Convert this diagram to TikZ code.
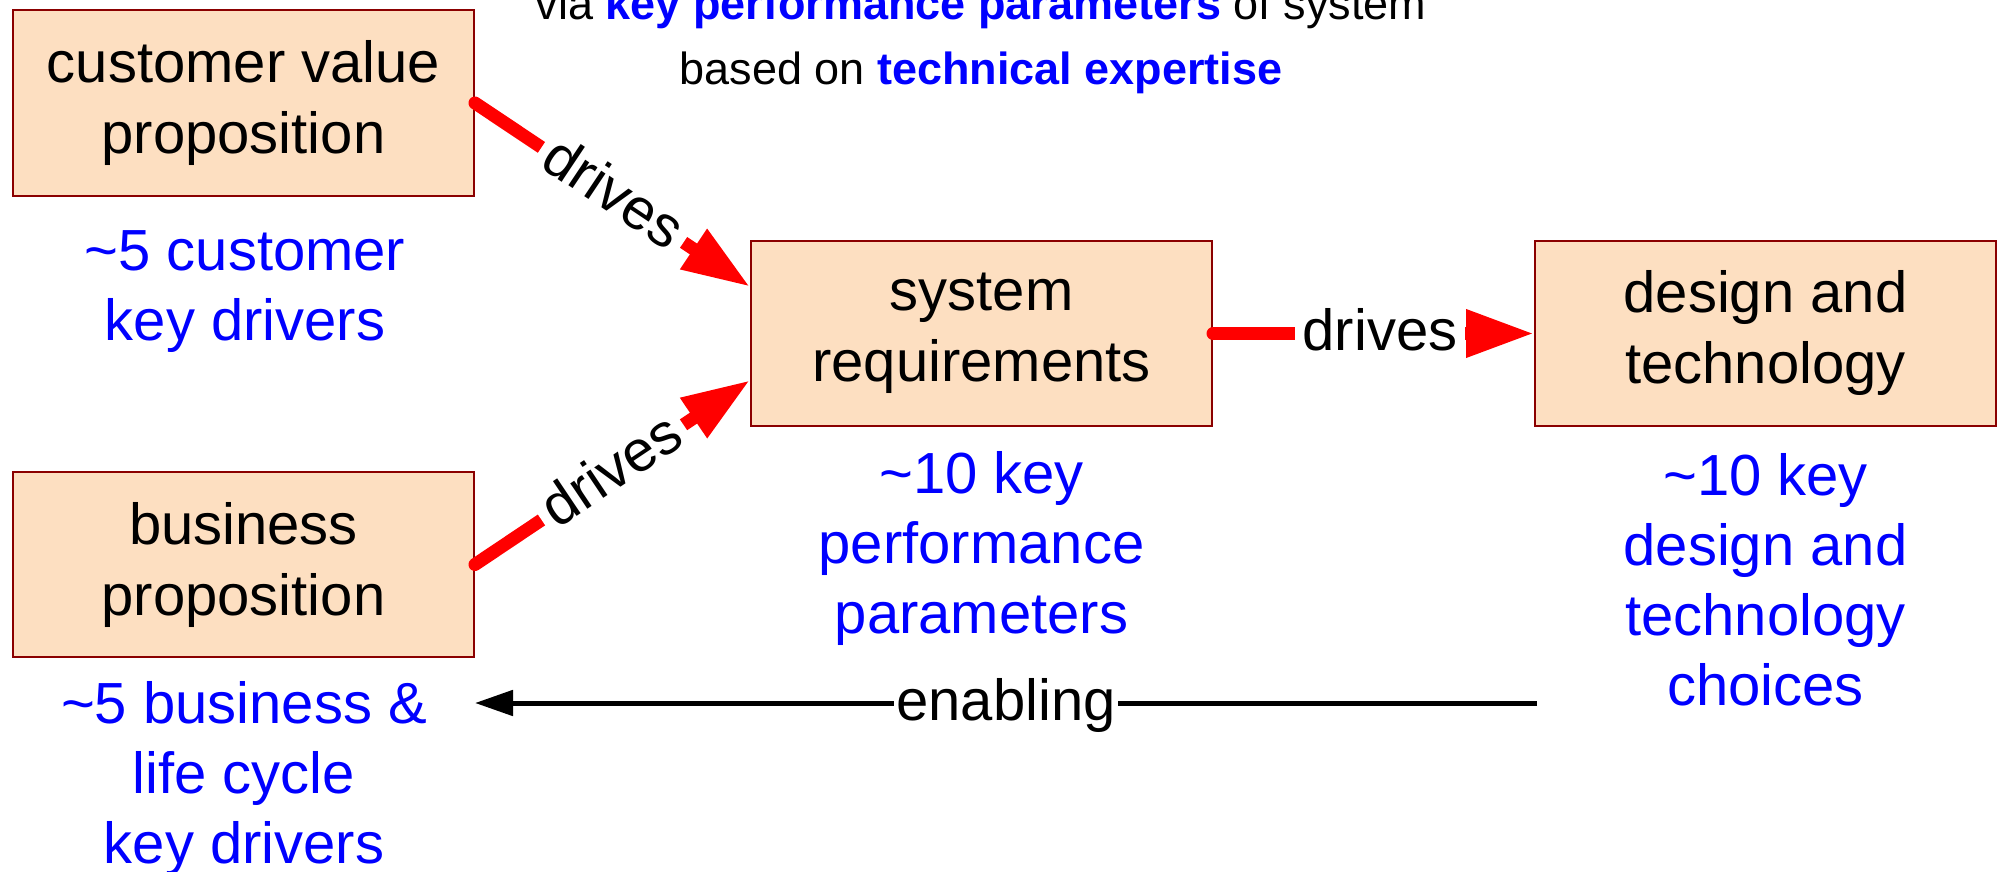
\documentclass[tikz,border=0pt]{standalone}
\usepackage{fontspec}
\setmainfont{Liberation Sans}
\usetikzlibrary{arrows.meta,calc}
\definecolor{boxfill}{HTML}{FDDFC1}
\definecolor{boxline}{HTML}{8B0000}
\definecolor{lblue}{HTML}{0000FF}
\definecolor{lred}{HTML}{FF0000}
\newcommand{\lowered}[1]{\raisebox{-8.5pt}{#1}}
\tikzset{
  blockbox/.style={draw=boxline, line width=1pt, fill=boxfill,
    minimum width=230.5pt, minimum height=92.5pt, inner sep=0pt,
    align=center, font=\fontsize{29}{35.5}\selectfont},
  keylabel/.style={text=lblue, align=center, anchor=base, inner sep=0pt,
    font=\fontsize{29}{35}\selectfont},
  drivearrow/.style={draw=lred, line width=6.5pt, line cap=round,
    -{Triangle[length=34pt,width=22.5pt]}},
  drivelabel/.style={fill=white, text=black, sloped, anchor=base,
    inner xsep=4pt, inner ysep=2pt, font=\fontsize{29}{35}\selectfont},
  enablearrow/.style={draw=black, line width=2.5pt,
    -{Triangle[length=19pt,width=12.5pt]}},
  enablelabel/.style={fill=white, text=black, anchor=base,
    inner xsep=1pt, inner ysep=2pt, font=\fontsize{29}{35}\selectfont},
  topnote/.style={align=center, anchor=base, inner sep=0pt,
    font=\fontsize{22.5}{32.5}\selectfont}
}
\begin{document}
\begin{tikzpicture}[x=0.5pt, y=-0.5pt]
\useasboundingbox (0,0) rectangle (1998,872);
\fill[white] (0,0) rectangle (1998,872);

\node[topnote] (note) at (981,85)
  {via {\bfseries\color{lblue}key performance parameters} of system\\
   based on {\bfseries\color{lblue}technical expertise}};

\node[blockbox] (cvp) at (243.5,103) {customer value\\proposition};
\node[blockbox] (bp)  at (243.5,564.5) {business\\proposition};
\node[blockbox] (sr)  at (981.5,333.5) {system\\requirements};
\node[blockbox] (dt)  at (1765.5,333.5) {design and\\technology};

\node[keylabel] (cvpk) at (245,340) {\textasciitilde 5 customer\\key drivers};
\node[keylabel] (bpk)  at (244,863) {\textasciitilde 5 business \&\\life cycle\\key drivers};
\node[keylabel] (srk)  at (981.5,633) {\textasciitilde 10 key\\performance\\parameters};
\node[keylabel] (dtk)  at (1765.5,705) {\textasciitilde 10 key\\design and\\technology\\choices};

\coordinate (srA) at ($(sr.north west)!0.25!(sr.south west)$);
\coordinate (srB) at ($(sr.north west)!0.75!(sr.south west)$);

\draw[drivearrow] (cvp.east) -- node[drivelabel] {\lowered{drives}} (srA);
\draw[drivearrow] (bp.east) -- node[drivelabel] {\lowered{drives}} (srB);
\draw[drivearrow] (sr.east) -- node[drivelabel, pos=0.52] {\lowered{drives}} (dt.west);

\coordinate (enR) at (1537,703);
\coordinate (enL) at (475,703);
\draw[enablearrow] (enR) -- node[enablelabel] {\lowered{enabling}} (enL);
\end{tikzpicture}
\end{document}
